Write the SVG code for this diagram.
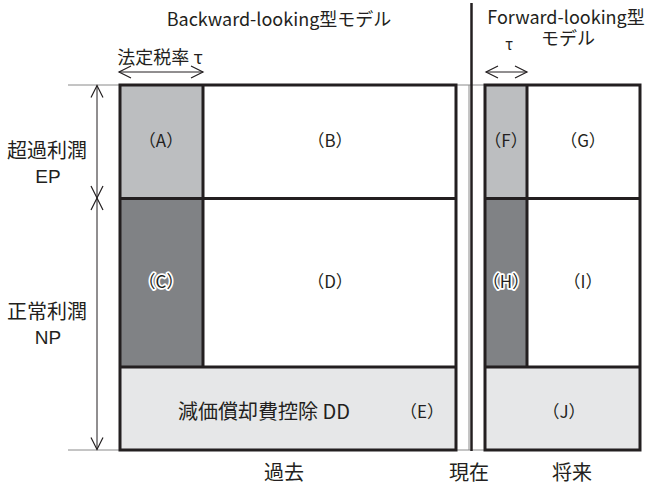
<svg xmlns="http://www.w3.org/2000/svg" width="647" height="485" viewBox="0 0 647 485">
<defs>
<style>
text{font-family:"Noto Sans CJK JP","Noto Sans",sans-serif;fill:#231f20;text-anchor:middle}
.t{font-size:18px}
.lab{font-size:17px}
.big{font-size:20px}
.lat{font-family:"Liberation Sans",Arial,sans-serif;font-size:19px}
.halo{paint-order:stroke;stroke:#fff;stroke-width:3.5px;stroke-linejoin:round}
.box{stroke:#231f20;stroke-width:3}
.guide{stroke:#8a8a8a;stroke-width:1;fill:none}
.dim{stroke:#231f20;stroke-width:1;fill:none}
</style>
<marker id="ah" viewBox="-14 -8 16 16" markerWidth="16" markerHeight="16" refX="0" refY="0" orient="auto-start-reverse" markerUnits="userSpaceOnUse">
<path d="M-12,-6 L0,0 L-12,6" fill="none" stroke="#231f20" stroke-width="1.2"/>
</marker>
</defs>
<rect width="647" height="485" fill="#fff"/>

<g id="guides">
<line class="guide" x1="68" y1="85" x2="640" y2="85"/>
<line class="guide" x1="68" y1="450" x2="640" y2="450"/>
<line class="guide" x1="469" y1="85" x2="469" y2="450"/>
</g>

<g id="left-block">
<g id="A"><rect x="120" y="85" width="83" height="113.5" fill="#bcbec0"/><text class="lab" x="161" y="147">（A）</text></g>
<g id="B"><rect x="203" y="85" width="253" height="113.5" fill="#fff"/><text class="lab" x="330" y="147">（B）</text></g>
<g id="C"><rect x="120" y="198.5" width="83" height="168.5" fill="#808285"/><text class="lab halo" x="161" y="288">（C）</text></g>
<g id="D"><rect x="203" y="198.5" width="253" height="168.5" fill="#fff"/><text class="lab" x="330" y="288">（D）</text></g>
<g id="E"><rect x="120" y="367" width="336" height="83" fill="#e6e7e8"/><text class="big" x="264" y="419">減価償却費控除 DD</text><text class="lab" x="422" y="418">（E）</text></g>
<path class="box" fill="none" d="M120,85 H456 V450 H120 Z M203,85 V367 M120,198.5 H456 M120,367 H456"/>
</g>

<g id="right-block">
<g id="F"><rect x="485" y="85" width="42" height="113.5" fill="#bcbec0"/><text class="lab" x="506" y="147">（F）</text></g>
<g id="G"><rect x="527" y="85" width="113" height="113.5" fill="#fff"/><text class="lab" x="583" y="147">（G）</text></g>
<g id="H"><rect x="485" y="198.5" width="42" height="168.5" fill="#808285"/><text class="lab halo" x="506" y="288">（H）</text></g>
<g id="I"><rect x="527" y="198.5" width="113" height="168.5" fill="#fff"/><text class="lab" x="583" y="288">（I）</text></g>
<g id="J"><rect x="485" y="367" width="155" height="83" fill="#e6e7e8"/><text class="lab" x="564" y="418">（J）</text></g>
<path class="box" fill="none" d="M485,85 H640 V450 H485 Z M527,85 V367 M485,198.5 H640 M485,367 H640"/>
</g>

<g id="connectors">
<line x1="471.5" y1="3" x2="471.5" y2="451" stroke="#231f20" stroke-width="2.5"/>
<line class="dim" x1="97" y1="85.5" x2="97" y2="198" marker-start="url(#ah)" marker-end="url(#ah)"/>
<line class="dim" x1="97" y1="198" x2="97" y2="449.5" marker-start="url(#ah)" marker-end="url(#ah)"/>
<line class="dim" x1="119" y1="72" x2="203" y2="72" marker-start="url(#ah)" marker-end="url(#ah)"/>
<line class="dim" x1="486" y1="72" x2="527" y2="72" marker-start="url(#ah)" marker-end="url(#ah)"/>
</g>

<g id="labels">
<text class="t" x="279" y="26">Backward-looking型モデル</text>
<text class="t" y="24"><tspan x="566">Forward-looking型</tspan><tspan x="568" dy="21">モデル</tspan></text>
<text class="t" x="160" y="64">法定税率 τ</text>
<text class="t" x="509" y="50" style="font-size:15px">τ</text>
<text class="big" x="47" y="158">超過利潤</text>
<text class="lat" x="48" y="183">EP</text>
<text class="big" x="47" y="319">正常利潤</text>
<text class="lat" x="48" y="344">NP</text>
<text class="big" x="284" y="480">過去</text>
<text class="big" x="469" y="480">現在</text>
<text class="big" x="572" y="480">将来</text>
</g>
</svg>
